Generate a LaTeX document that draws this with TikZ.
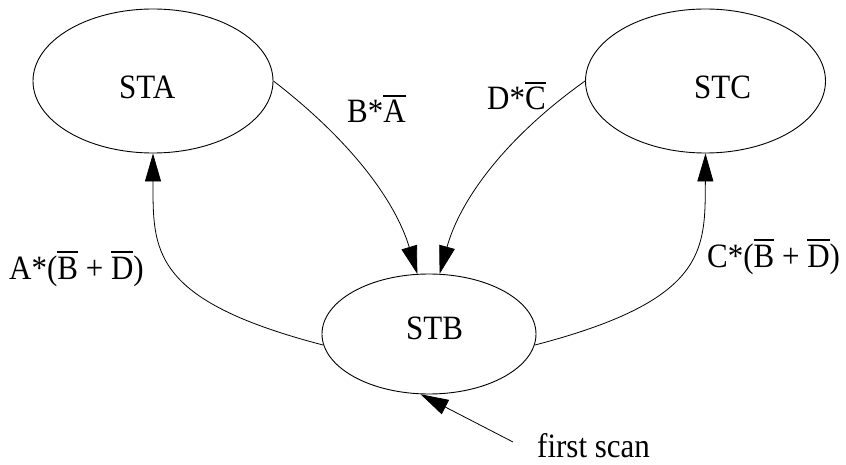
\documentclass[tikz,border=0pt]{standalone}
\usepackage{fontspec}
\setmainfont{Liberation Serif}
\usetikzlibrary{shapes.geometric,arrows.meta}
\newcommand{\ob}[1]{\leavevmode\vbox{\hrule height 1.6pt \kern 3.2pt \hbox{#1}}}
\newcommand{\T}[1]{\scalebox{1}[1.1]{#1}}
\begin{document}
\begin{tikzpicture}[x=1pt,y=-1pt,
  state/.style={draw,ellipse,line width=0.9pt,minimum width=240pt,minimum height=144pt,inner sep=0pt},
  lbl/.style={anchor=base west,inner sep=0pt,font=\fontsize{31}{36}\selectfont},
  conn/.style={line width=0.8pt,-{Triangle[length=28pt,width=16pt]}}]
\useasboundingbox (0,0) rectangle (846,465);
\node[state] (sta) at (153,81) {};
\node[state] (stc) at (705.5,81) {};
\node[state,minimum width=214pt,minimum height=120pt] (stb) at (429,334) {};
\node[lbl] (tA) at (119,99) {\T{STA}};
\node[lbl] (tC) at (694,99) {\T{STC}};
\node[lbl] (tB) at (406,339) {\T{STB}};
\node[lbl] (l1) at (347,123) {\T{B*\ob{A}}};
\node[lbl] (l2) at (487,110) {\T{D*\ob{C}}};
\node[lbl] (l3) at (9,279) {\T{A*(\ob{B} + \ob{D})}};
\node[lbl] (l4) at (707,267) {\T{C*(\ob{B} + \ob{D})}};
\node[lbl] (l5) at (537,457) {\T{first scan}};
\coordinate (fs) at (513,442);
\draw[conn] (sta.east) .. controls (350,140) and (395,200) .. (stb.101);
\draw[conn] (stc.west) .. controls (505,138) and (460,200) .. (stb.80);
\draw[conn] (stb.186) .. controls (150,300) and (153,250) .. (sta.south);
\draw[conn] (stb.354) .. controls (708,300) and (705,250) .. (stc.south);
\draw[conn] (fs) -- (stb.262);
\end{tikzpicture}
\end{document}
